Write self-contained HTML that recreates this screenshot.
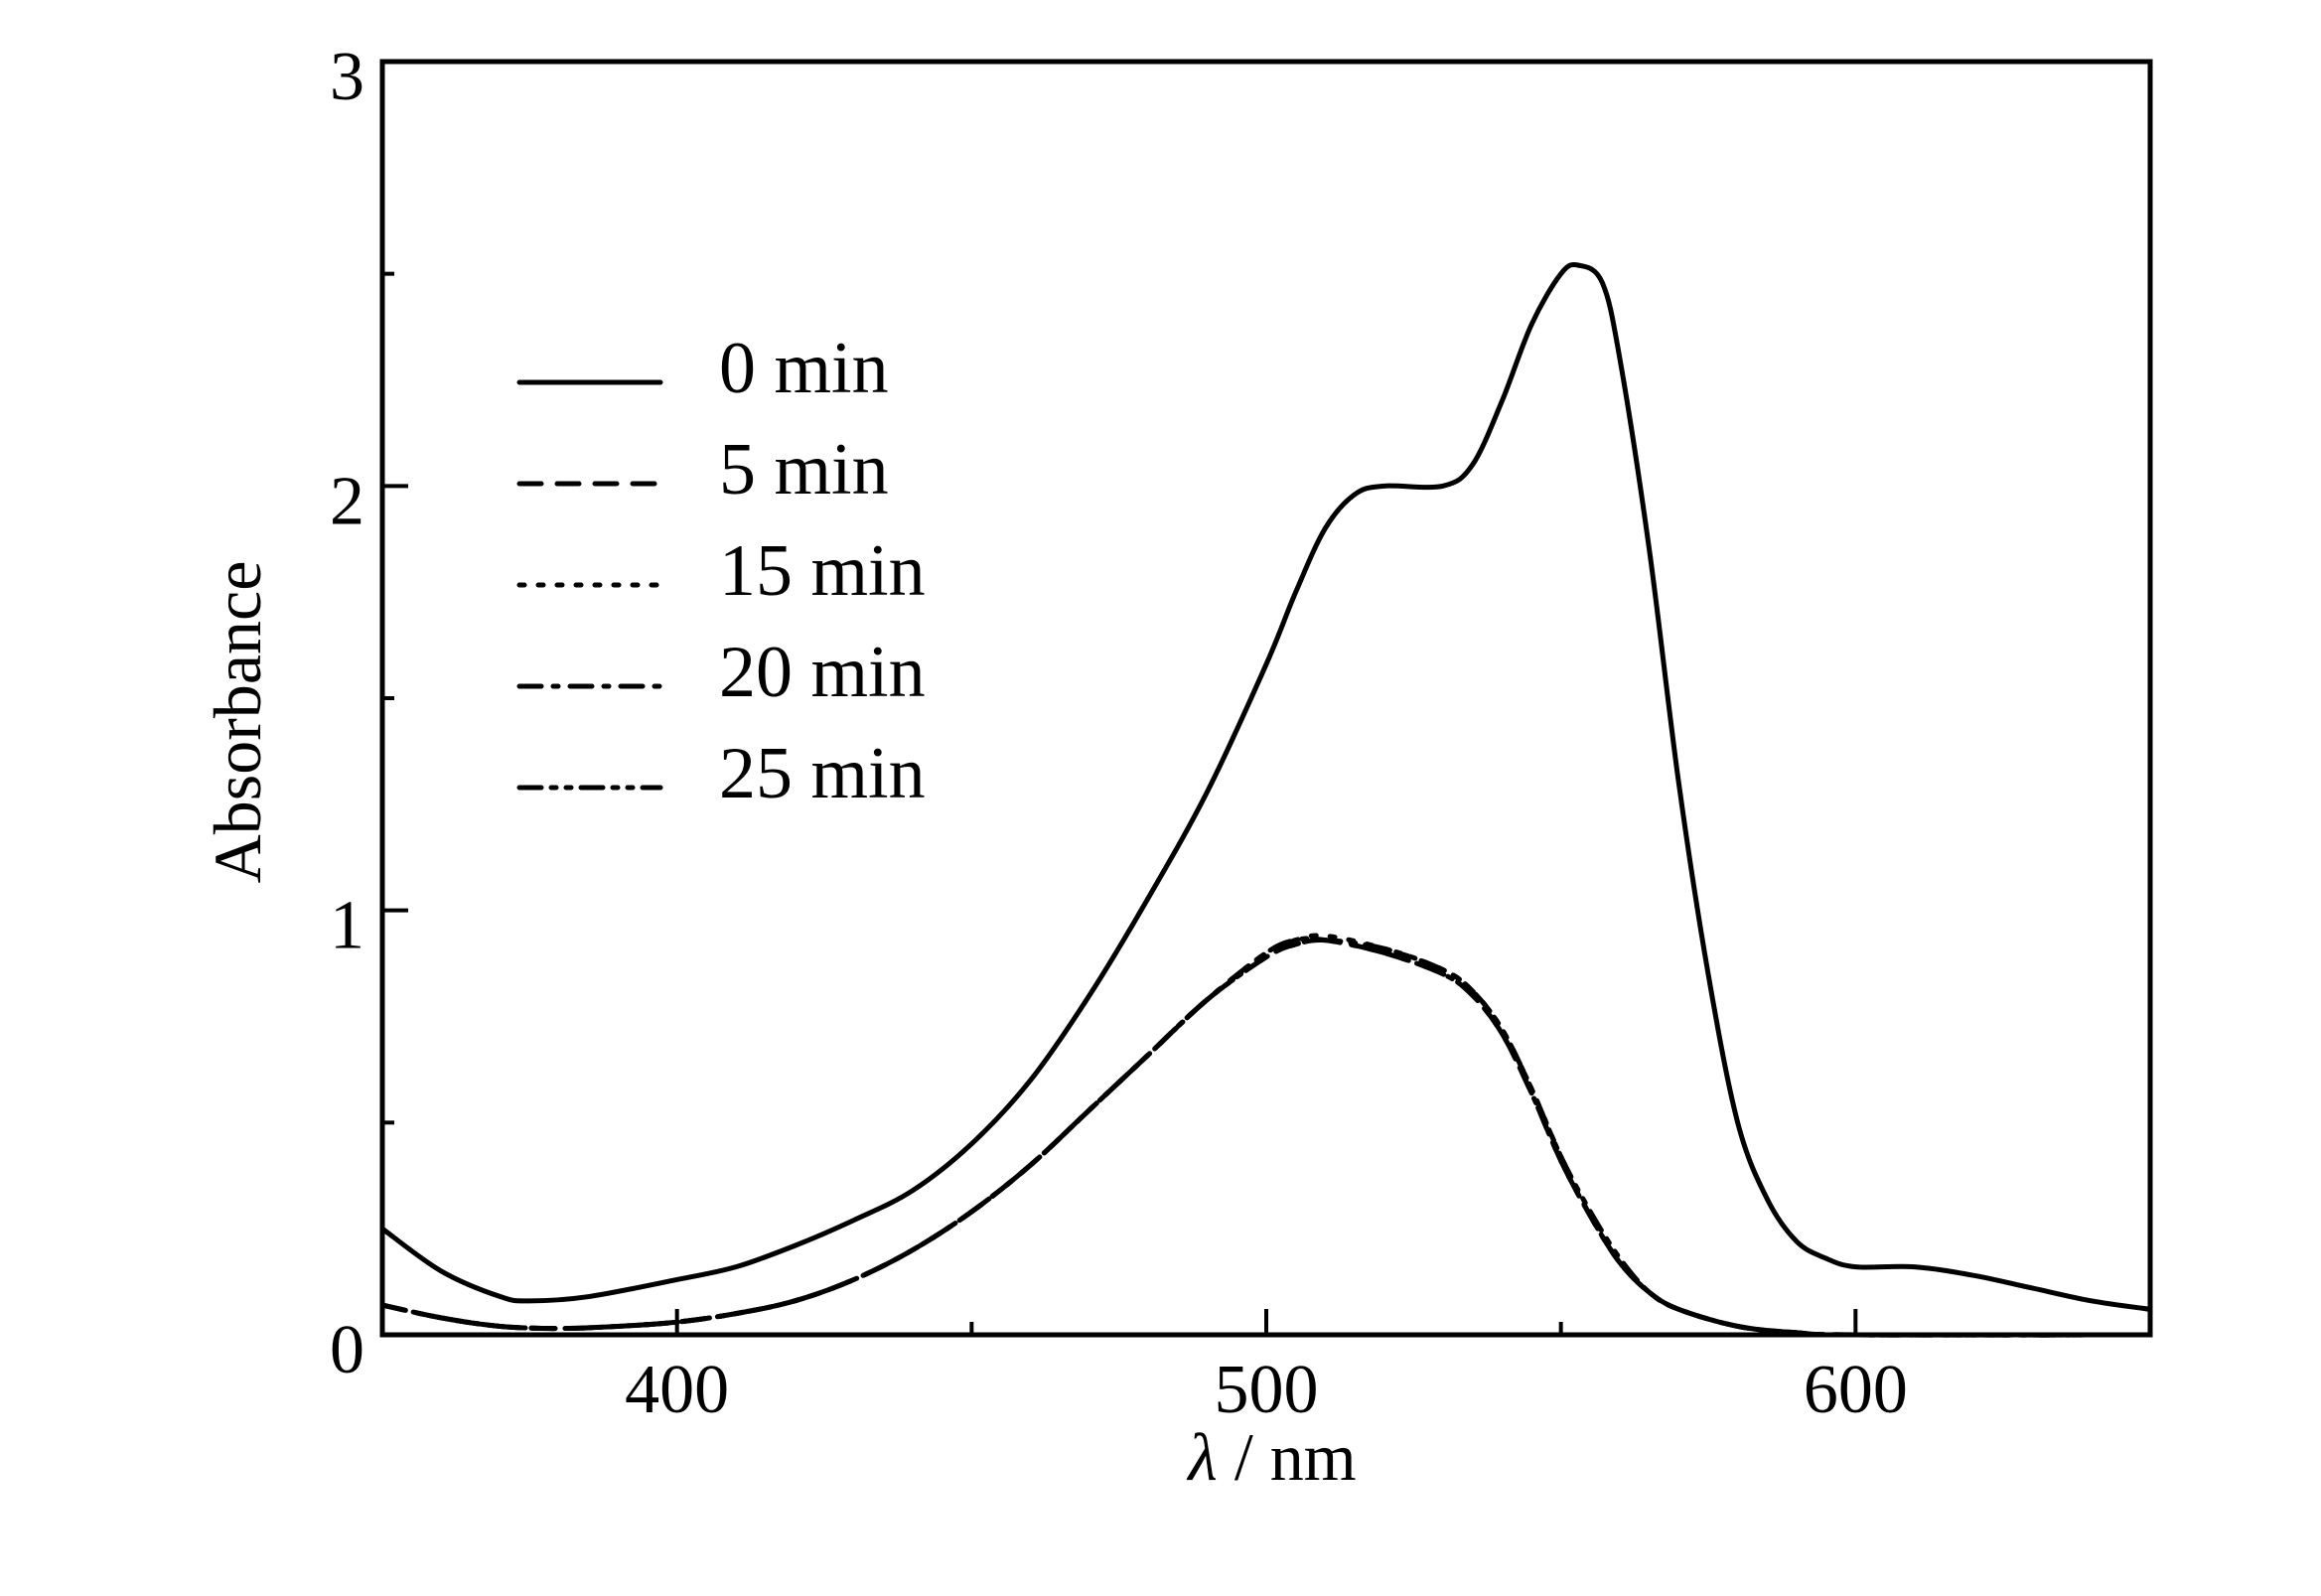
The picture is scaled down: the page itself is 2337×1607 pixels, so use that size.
<!DOCTYPE html>
<html><head><meta charset="utf-8"><style>
html,body{margin:0;padding:0;background:#fff;}
svg{display:block;}
text{font-family:"Liberation Serif",serif;fill:#000;}
</style></head><body>
<svg id="chart" width="2337" height="1607" viewBox="0 0 2337 1607" xmlns="http://www.w3.org/2000/svg">
<g id="axes"></g>
<g id="series"></g>
<g id="legend"></g>
<text x="0" y="0" font-size="68" text-anchor="middle" transform="translate(262,727) rotate(-90)">Absorbance</text>
<text x="1281" y="1490" font-size="68" text-anchor="middle"><tspan font-style="italic">λ</tspan> / nm</text>
</svg>
<script>
const wl = [350,360,370,375,385,400,410,420,430,440,450,460,470,480,490,500,505,510,515,520,530,535,540,545,550,553,557,560,565,570,575,580,585,590,595,600,610,620,630,640,650];
const abs0 = [0.25,0.15,0.09,0.08,0.09,0.13,0.16,0.21,0.27,0.34,0.45,0.6,0.8,1.03,1.28,1.58,1.75,1.9,1.98,2.0,2.0,2.05,2.2,2.38,2.5,2.52,2.48,2.3,1.85,1.3,0.85,0.5,0.32,0.22,0.18,0.16,0.16,0.14,0.11,0.08,0.06];
const wl2 = [350,360,370,380,390,400,410,420,430,440,450,460,470,480,490,500,505,510,520,530,535,540,545,550,555,560,565,570,580,590,600,650];
const abs5 = [0.07,0.04,0.02,0.015,0.02,0.03,0.05,0.08,0.13,0.2,0.29,0.4,0.53,0.66,0.79,0.89,0.92,0.93,0.9,0.85,0.8,0.71,0.57,0.41,0.28,0.17,0.1,0.06,0.02,0.005,0,0];
const abs15 = [0.07,0.04,0.02,0.015,0.02,0.03,0.05,0.08,0.13,0.2,0.29,0.4,0.53,0.66,0.79,0.9,0.93,0.94,0.91,0.86,0.81,0.72,0.58,0.42,0.28,0.17,0.1,0.06,0.02,0.005,0,0];
const abs20 = [0.07,0.04,0.02,0.015,0.02,0.03,0.05,0.08,0.13,0.2,0.29,0.4,0.53,0.66,0.79,0.9,0.93,0.93,0.9,0.85,0.8,0.71,0.57,0.41,0.28,0.17,0.1,0.06,0.02,0.005,0,0];
const abs25 = [0.07,0.04,0.02,0.015,0.02,0.03,0.05,0.08,0.13,0.2,0.29,0.4,0.53,0.66,0.79,0.89,0.92,0.93,0.91,0.86,0.81,0.72,0.58,0.42,0.29,0.18,0.1,0.06,0.02,0.005,0,0];
const xTicks = [400,500,600];
const xMinor = [450,550];
const yTicks = [0,1,2,3];
const yMinor = [0.5,1.5,2.5];
const legendLabels = ["0 min","5 min","15 min","20 min","25 min"];

const L=385,R=2165,T=62,B=1344;
const X0=350,X1=650,Y0=0,Y1=3;
const sx=v=>L+(v-X0)/(X1-X0)*(R-L);
const sy=v=>B-(v-Y0)/(Y1-Y0)*(B-T);
const NS="http://www.w3.org/2000/svg";
function mk(tag,attrs,parent){const e=document.createElementNS(NS,tag);for(const k in attrs)e.setAttribute(k,attrs[k]);parent.appendChild(e);return e;}
const axes=document.getElementById('axes');
const frame=mk('rect',{x:L,y:T,width:R-L,height:B-T,fill:'none',stroke:'#000','stroke-width':5},axes);


xTicks.forEach(v=>{
  const t=mk('line',{x1:sx(v),x2:sx(v),y1:B,y2:B-26,stroke:'#000','stroke-width':4},axes);
  
  
  const l=mk('text',{x:sx(v),y:B+78,'font-size':70,'text-anchor':'middle'},axes);l.textContent=v;
  
  
});
xMinor.forEach(v=>{
  const t=mk('line',{x1:sx(v),x2:sx(v),y1:B,y2:B-13,stroke:'#000','stroke-width':4},axes);
  
  
});
yTicks.forEach(v=>{
  const t=mk('line',{x1:L,x2:L+26,y1:sy(v),y2:sy(v),stroke:'#000','stroke-width':4},axes);
  
  
  const l=mk('text',{x:L-18,y:sy(v)+38,'font-size':70,'text-anchor':'end'},axes);l.textContent=v;
  
  
});
yMinor.forEach(v=>{
  const t=mk('line',{x1:L,x2:L+12,y1:sy(v),y2:sy(v),stroke:'#000','stroke-width':4},axes);
  
  
});
function smooth(xs,ys){
  const p=xs.map((x,i)=>[sx(x),sy(ys[i])]);
  let d='M'+p[0][0]+','+p[0][1];
  for(let i=0;i<p.length-1;i++){
    const p0=p[i-1]||p[i],p1=p[i],p2=p[i+1],p3=p[i+2]||p2;
    const c1=[p1[0]+(p2[0]-p0[0])/6,p1[1]+(p2[1]-p0[1])/6];
    const c2=[p2[0]-(p3[0]-p1[0])/6,p2[1]-(p3[1]-p1[1])/6];
    d+=' C'+c1[0]+','+c1[1]+' '+c2[0]+','+c2[1]+' '+p2[0]+','+p2[1];
  }
  return d;
}
const dashes=['','22,16','5,14','22,12,5,12','22,10,5,10,5,10'];
const sets=[[wl,abs0],[wl2,abs5],[wl2,abs15],[wl2,abs20],[wl2,abs25]];
const sg=document.getElementById('series');
sets.forEach((s,i)=>{
  const a={d:smooth(s[0],s[1]),fill:'none',stroke:'#000','stroke-width':5,'stroke-linecap':'round'};
  if(dashes[i])a['stroke-dasharray']=dashes[i];
  const p=mk('path',a,sg);
  
  
});
const lg=document.getElementById('legend');
legendLabels.forEach((lab,i)=>{
  const y=385+i*102;
  const a={x1:523,x2:665,y1:y,y2:y,stroke:'#000','stroke-width':5,'stroke-linecap':'round'};
  if(dashes[i])a['stroke-dasharray']=dashes[i];
  const ln=mk('line',a,lg);
  
  
  const t=mk('text',{x:724,y:y+10,'font-size':74},lg);t.textContent=lab;
  
  
});
</script>
</body></html>
